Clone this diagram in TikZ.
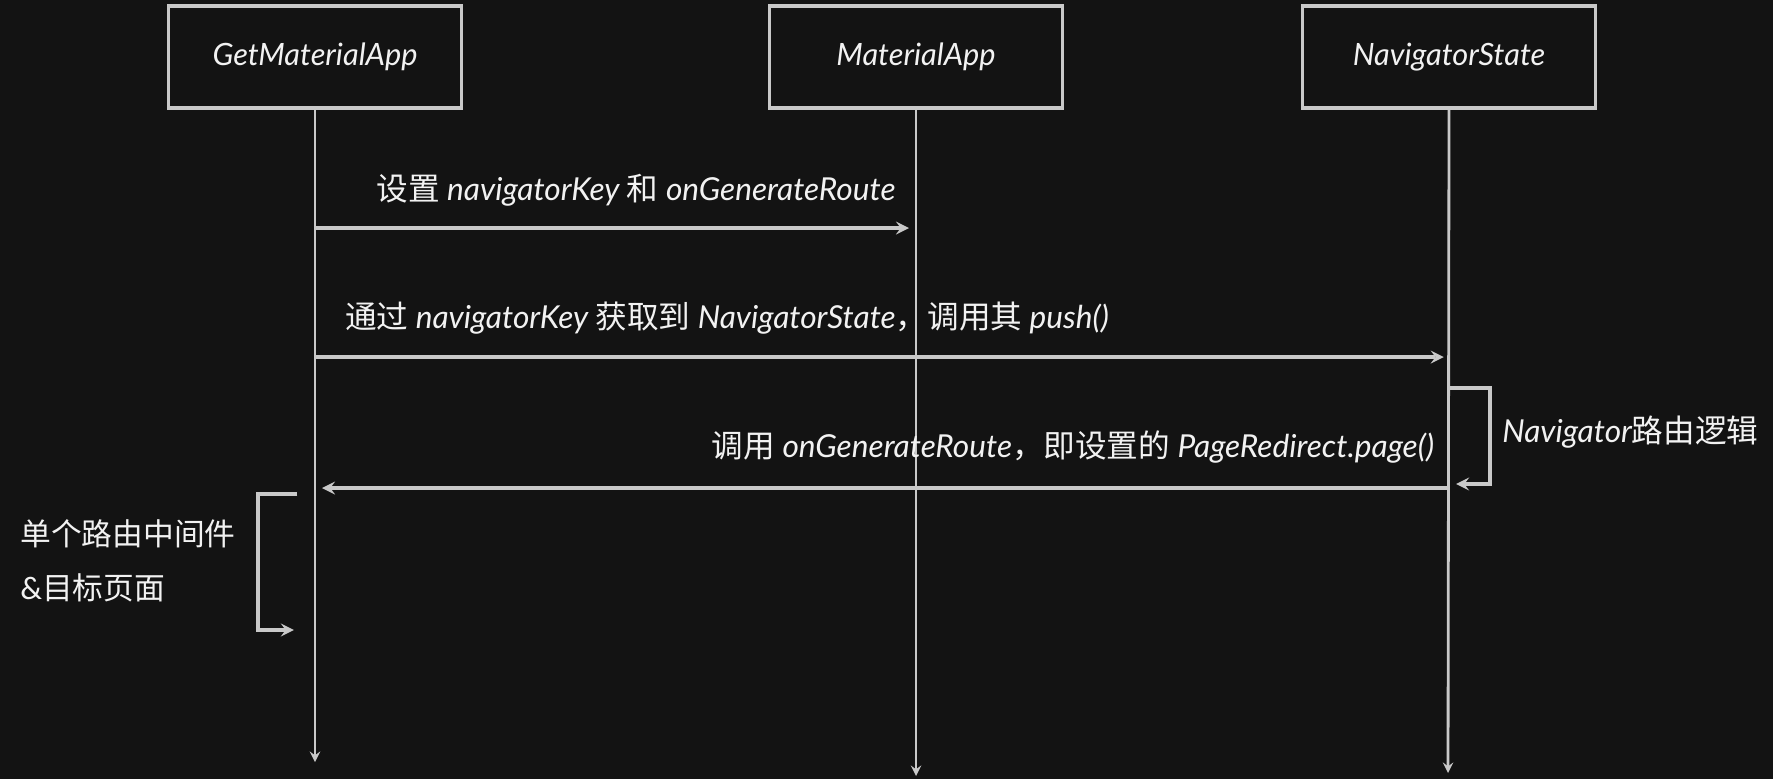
\documentclass[tikz,border=0pt]{standalone}
\usepackage{fontspec}
\setmainfont{Lato}
\newfontfamily\zhfont{Noto Sans CJK SC}
\newcommand{\zh}[1]{{\zhfont #1}}
\usetikzlibrary{shapes,arrows,positioning}
\definecolor{bgdark}{HTML}{131313}
\definecolor{inkgray}{HTML}{C9C9C9}
\definecolor{txtwhite}{HTML}{F2F2F2}

\begin{document}
\begin{tikzpicture}[
    x=0.02cm, y=-0.02cm,
    actor/.style={rectangle, draw=inkgray, line width=2.2pt, fill=bgdark, minimum width=5.86cm, minimum height=2.04cm, text=txtwhite, font=\itshape\fontsize{17.5}{20}\selectfont},
    life/.style={->, >=stealth, draw=inkgray, line width=1.6pt},
    msg/.style={->, >=stealth, draw=inkgray, line width=2.2pt},
    msgtext/.style={text=txtwhite, inner sep=0pt, font=\itshape\fontsize{18}{21}\selectfont}
]

% background and canvas size
\fill[bgdark] (0,0) rectangle (1773,779);
\useasboundingbox (0,0) rectangle (1773,779);

% participants
\node[actor] (getapp) at (315,57) {GetMaterialApp};
\node[actor] (matapp) at (916,57) {MaterialApp};
\node[actor] (navstate) at (1449,57) {NavigatorState};

% lifeline ends
\coordinate (getend) at (315,762);
\coordinate (matend) at (916,776);
\coordinate (navend) at (1448,773);

\draw[life] (getapp.south) -- (getend);
\draw[life] (matapp.south) -- (matend);
\draw[life] (navstate.south) -- (navend);

% message rows
\coordinate (row1) at (0,228);
\coordinate (row2) at (0,357);
\coordinate (row3) at (0,488);

\node[msgtext] (txt1) at (636,190) {\zh{设置} navigatorKey \zh{和} onGenerateRoute};
\draw[msg] (getapp |- row1) -- ([xshift=-4]matapp |- row1);

\node[msgtext] (txt2) at (727,318) {\zh{通过} navigatorKey \zh{获取到} NavigatorState\zh{，调用其} push()};
\draw[msg] (getapp |- row2) -- ([xshift=-3]navstate |- row2);

% self call on NavigatorState
\coordinate (navloopa) at (1490,388);
\coordinate (navloopb) at (1490,484);
\draw[msg] (navstate |- navloopa) -- (navloopa) -- (navloopb) -- ([xshift=4]navstate |- navloopb);
\node[msgtext, anchor=west] (navtxt) at (1502,432) {Navigator\zh{路由逻辑}};

\node[msgtext] (txt3) at (1073,447) {\zh{调用} onGenerateRoute\zh{，即设置的} PageRedirect.page()};
\draw[msg] (navstate |- row3) -- ([xshift=4]getapp |- row3);

% self call on GetMaterialApp
\coordinate (getloopa) at (258,494);
\coordinate (getloopb) at (258,630);
\draw[msg] ([xshift=-10]getapp |- getloopa) -- (getloopa) -- (getloopb) -- ([xshift=-12]getapp |- getloopb);
\node[msgtext, anchor=west, align=left, font=\fontsize{17.5}{20}\selectfont] (gettxt) at (20,561) {\zh{单个路由中间件}\\[11pt]\&\zh{目标页面}};

\end{tikzpicture}
\end{document}
